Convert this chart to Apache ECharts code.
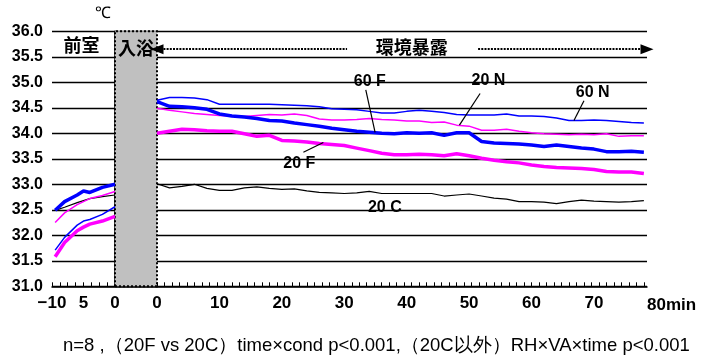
<!DOCTYPE html>
<html>
<head>
<meta charset="utf-8">
<script src="https://cdn.jsdelivr.net/npm/echarts@6/dist/echarts.min.js"></script>
<style>
  html, body { margin: 0; padding: 0; background: #fff; }
  #chart { width: 708px; height: 363px; }
</style>
</head>
<body>
<div id="chart"></div>
<script>
// Minutes in the ante-room before bathing, and after leaving the bath (exposure)
const preMinutes = [-9.5, -8, -6, -5, -4, -2, 0];
const expMinutes = [0, 2, 4, 6, 8, 10, 12, 14, 16, 18, 20, 22, 24, 26, 28, 30, 32, 34, 36, 38,
                    40, 42, 44, 46, 48, 50, 52, 54, 56, 58, 60, 62, 64, 66, 68, 70, 72, 74, 76, 78];

// Skin temperature (°C), ante-room
const pre20C = [32.49, 32.55, 32.64, 32.68, 32.72, 32.76, 32.79];
const pre20F = [31.58, 31.86, 32.09, 32.16, 32.22, 32.28, 32.37];
const pre20N = [32.25, 32.44, 32.60, 32.66, 32.72, 32.78, 32.86];
const pre60F = [32.49, 32.66, 32.79, 32.87, 32.84, 32.94, 33.00];
const pre60N = [31.71, 31.96, 32.20, 32.28, 32.31, 32.41, 32.56];

// Skin temperature (°C), environmental exposure
const exp20C = [33.01, 32.93, 32.96, 33.00, 32.92, 32.88, 32.88, 32.93, 32.95, 32.92, 32.90, 32.91, 32.87, 32.84, 32.83, 32.82, 32.83, 32.86, 32.82, 32.82,
                32.82, 32.82, 32.82, 32.77, 32.79, 32.81, 32.77, 32.73, 32.71, 32.66, 32.66, 32.65, 32.62, 32.66, 32.69, 32.67, 32.66, 32.65, 32.66, 32.68];
const exp20F = [34.00, 34.04, 34.08, 34.07, 34.05, 34.04, 34.04, 33.99, 33.94, 33.96, 33.86, 33.85, 33.83, 33.80, 33.78, 33.76, 33.71, 33.66, 33.61, 33.58,
                33.58, 33.59, 33.58, 33.56, 33.60, 33.56, 33.51, 33.47, 33.44, 33.42, 33.38, 33.35, 33.33, 33.32, 33.31, 33.29, 33.25, 33.24, 33.24, 33.21];
const exp20N = [34.49, 34.45, 34.42, 34.39, 34.37, 34.35, 34.34, 34.33, 34.35, 34.37, 34.36, 34.38, 34.35, 34.28, 34.26, 34.26, 34.27, 34.29, 34.27, 34.26,
                34.24, 34.24, 34.21, 34.22, 34.16, 34.14, 34.06, 34.06, 34.08, 34.04, 34.01, 33.99, 33.98, 33.97, 33.98, 33.97, 33.99, 33.94, 33.95, 33.95];
const exp60F = [34.62, 34.53, 34.52, 34.50, 34.47, 34.38, 34.34, 34.32, 34.29, 34.25, 34.24, 34.20, 34.17, 34.14, 34.10, 34.07, 34.04, 34.02, 34.00, 33.99,
                34.01, 34.00, 34.01, 33.96, 34.01, 34.01, 33.84, 33.81, 33.80, 33.79, 33.77, 33.74, 33.77, 33.74, 33.71, 33.69, 33.64, 33.64, 33.65, 33.63];
const exp60N = [34.65, 34.70, 34.70, 34.69, 34.66, 34.57, 34.57, 34.57, 34.57, 34.57, 34.56, 34.55, 34.54, 34.52, 34.48, 34.47, 34.46, 34.43, 34.40, 34.40,
                34.43, 34.45, 34.43, 34.41, 34.37, 34.36, 34.36, 34.36, 34.38, 34.34, 34.34, 34.33, 34.30, 34.25, 34.25, 34.26, 34.25, 34.23, 34.21, 34.20];

// Axis tick labels
const preTickValues = [-10, -5, 0];
const preTickText = ['\u221210', '5', '0'];
const expTickValues = [0, 10, 20, 30, 40, 50, 60, 70];
const expEndLabel = '80min';

const FOOTNOTE = 'n=8 ,（20F vs 20C）time\u00d7cond p<0.001,（20C以外）RH\u00d7VA\u00d7time p<0.001';

const PRE_MIN = -10;
const PRE_AXIS_MAX = 6.667;   // ante-room axis also spans the bathing period
const EXP_AXIS_MAX = 78.5;

const FONT = '"Liberation Sans", Arial, sans-serif';
const CJK = '"Noto Sans CJK JP", "Liberation Sans", sans-serif';
const BLUE = '#0000ff';
const MAGENTA = '#ff00ff';

const pairs = (xs, ys) => xs.map((x, i) => [x, ys[i]]);

function ticks(from, to, step) {
  const out = [];
  for (let v = from; v <= to + 1e-6; v += step) out.push(+v.toFixed(3));
  return out;
}

const yCommon = {
  type: 'value', min: 31, max: 36, interval: 0.5,
  splitLine: { show: true, lineStyle: { color: '#000', width: 1.3 } },
  axisTick: { show: false }
};

const textLabel = (name, size, family) => ({
  show: true, position: 'inside', formatter: name,
  fontFamily: family || FONT, fontWeight: 'bold', fontSize: size || 16, color: '#000'
});

function note(name, coord, size, family) {
  return { name, coord, symbolSize: 0, label: textLabel(name, size, family) };
}

function leader(from, to) {
  return [{ coord: from }, { coord: to }];
}

const leaderStyle = { color: '#000', width: 1.2, type: 'solid' };

function line(name, data, color, width, xIdx, extra) {
  return Object.assign({
    name, type: 'line', data, xAxisIndex: xIdx, yAxisIndex: xIdx,
    showSymbol: false, symbol: 'none', smooth: false,
    lineStyle: { color, width }, itemStyle: { color }, z: 3
  }, extra || {});
}

const option = {
  animation: false,
  backgroundColor: '#fff',
  title: {
    text: FOOTNOTE, left: 63, top: 336, padding: 0,
    textStyle: { fontFamily: FONT, fontSize: 18.5, fontWeight: 'normal', color: '#000' }
  },
  grid: [
    { left: 52, top: 31.3, width: 105, bottom: 76.7 },
    { left: 157, top: 31.3, width: 490, bottom: 76.7 }
  ],
  xAxis: [
    {
      type: 'value', gridIndex: 0, min: PRE_MIN, max: PRE_AXIS_MAX,
      axisLine: { lineStyle: { color: '#000', width: 1.5 } },
      axisTick: { show: true, inside: true, length: 4, customValues: ticks(-10, 0, 1.25), lineStyle: { color: '#000' } },
      axisLabel: {
        customValues: preTickValues, margin: 9,
        formatter: v => preTickText[preTickValues.indexOf(v)],
        fontFamily: FONT, fontSize: 17, fontWeight: 'bold', color: '#000'
      },
      splitLine: { show: false }
    },
    {
      type: 'value', gridIndex: 1, min: 0, max: EXP_AXIS_MAX,
      name: expEndLabel, nameLocation: 'end', nameGap: 0,
      nameTextStyle: { fontFamily: FONT, fontSize: 17, fontWeight: 'bold', color: '#000', align: 'left', verticalAlign: 'top', padding: [11, 0, 0, 0] },
      axisLine: { lineStyle: { color: '#000', width: 1.5 } },
      axisTick: { show: true, inside: true, length: 4, customValues: ticks(0, 78, 1.2), lineStyle: { color: '#000' } },
      axisLabel: {
        customValues: expTickValues, margin: 9,
        fontFamily: FONT, fontSize: 17, fontWeight: 'bold', color: '#000'
      },
      splitLine: { show: false }
    }
  ],
  yAxis: [
    Object.assign({}, yCommon, {
      gridIndex: 0,
      name: '\u2103', nameLocation: 'end', nameGap: 10,
      nameTextStyle: { fontFamily: FONT, fontSize: 16, color: '#000', padding: [0, 24, 0, 0] },
      axisLine: { show: true, lineStyle: { color: '#000', width: 1.5 } },
      axisLabel: { formatter: v => v.toFixed(1), margin: 9, fontFamily: FONT, fontSize: 16, fontWeight: 'bold', color: '#000' }
    }),
    Object.assign({}, yCommon, {
      gridIndex: 1,
      axisLine: { show: false },
      axisLabel: { show: false }
    })
  ],
  series: [
    // ante-room segment
    line('20 C pre', pairs(preMinutes, pre20C), '#000', 1.2, 0, {
      markArea: {
        silent: true,
        itemStyle: { color: '#c0c0c0', borderColor: '#000', borderWidth: 2, borderType: 'dotted', opacity: 1 },
        data: [[{ xAxis: 0 }, { xAxis: PRE_AXIS_MAX }]]
      },
      markPoint: {
        symbol: 'rect', silent: true,
        data: [note('前室', [-5.3, 35.72], 18, CJK), note('入浴', [3.33, 35.66], 18, CJK)]
      }
    }),
    line('20 N pre', pairs(preMinutes, pre20N), MAGENTA, 1.5, 0),
    line('60 N pre', pairs(preMinutes, pre60N), BLUE, 1.5, 0),
    line('20 F pre', pairs(preMinutes, pre20F), MAGENTA, 3.5, 0),
    line('60 F pre', pairs(preMinutes, pre60F), BLUE, 3.5, 0),

    // exposure segment
    line('20 C', pairs(expMinutes, exp20C), '#000', 1.2, 1, {
      markPoint: {
        symbol: 'rect', silent: true,
        data: [note('20 C', [36.5, 32.54]), note('環境暴露', [40.8, 35.68], 18, CJK)]
      },
      markLine: {
        silent: true, symbolSize: [10, 13],
        lineStyle: { color: '#000', width: 2, type: [2, 1.2] },
        label: { show: false },
        data: [
          [{ coord: [0, 35.65], symbol: 'triangle' }, { coord: [30.45, 35.65], symbol: 'none' }],
          [{ coord: [51.44, 35.65], symbol: 'none' }, { coord: [EXP_AXIS_MAX, 35.65], symbol: 'triangle' }]
        ]
      }
    }),
    line('20 N', pairs(expMinutes, exp20N), MAGENTA, 1.5, 1, {
      markPoint: { symbol: 'rect', silent: true, data: [note('20 N', [53.1, 35.03])] },
      markLine: { silent: true, symbol: ['none', 'none'], lineStyle: leaderStyle, label: { show: false },
        data: [leader([51.76, 34.78], [48.45, 34.16])] }
    }),
    line('60 N', pairs(expMinutes, exp60N), BLUE, 1.5, 1, {
      markPoint: { symbol: 'rect', silent: true, data: [note('60 N', [69.8, 34.79])] },
      markLine: { silent: true, symbol: ['none', 'none'], lineStyle: leaderStyle, label: { show: false },
        data: [leader([68.4, 34.64], [66.8, 34.25])] }
    }),
    line('20 F', pairs(expMinutes, exp20F), MAGENTA, 3.5, 1, {
      markPoint: { symbol: 'rect', silent: true, data: [note('20 F', [22.8, 33.41])] },
      markLine: { silent: true, symbol: ['none', 'none'], lineStyle: leaderStyle, label: { show: false },
        data: [leader([23.45, 33.63], [26.65, 33.82])] }
    }),
    line('60 F', pairs(expMinutes, exp60F), BLUE, 3.5, 1, {
      markPoint: { symbol: 'rect', silent: true, data: [note('60 F', [34.1, 35.01])] },
      markLine: { silent: true, symbol: ['none', 'none'], lineStyle: leaderStyle, label: { show: false },
        data: [leader([33.45, 34.85], [34.94, 34.02])] }
    })
  ]
};

const chart = echarts.init(document.getElementById('chart'), null, { renderer: 'canvas' });
chart.setOption(option);
</script>
</body>
</html>
